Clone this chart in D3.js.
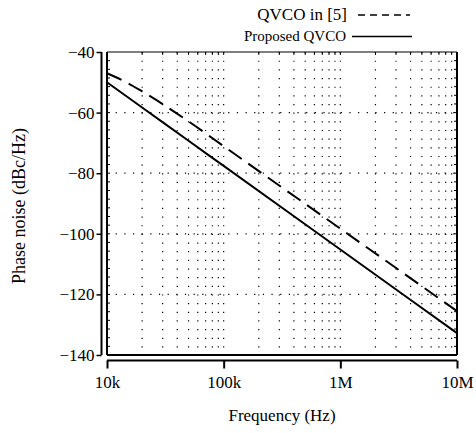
<!DOCTYPE html>
<html>
<head>
<meta charset="utf-8">
<script src="https://cdn.jsdelivr.net/npm/d3@7"></script>
<style>
  body { margin: 0; background: #fff; }
  text { font-family: "Liberation Serif", "Times New Roman", serif; fill: #000; }
</style>
</head>
<body>
<div id="svg_wrapper"></div>
<script>
// data
const refFreqs = [1e4, 1.5e4, 2e4, 3e4, 5e4, 1e5, 1e6, 1e7];
const refNoise = [-47, -50.2, -53, -57.2, -62.9, -71.1, -98.3, -125.5];
const propFreqs = [1e4, 2e4, 5e4, 1e5, 1e6, 1e7];
const propNoise = [-50, -58.3, -69.3, -77.6, -105.2, -132.8];
const xTicks = [1e4, 1e5, 1e6, 1e7];
const xTickLabels = ['10k', '100k', '1M', '10M'];
const yTicks = [-140, -120, -100, -80, -60, -40];
const legendLabels = ['QVCO in [5]', 'Proposed QVCO'];

const width = 476, height = 433;
const plotLeft = 107, plotRight = 457, plotTop = 52, plotBottom = 355;

const svg = d3.select('#svg_wrapper')
.append('svg')
.attr('width', width)
.attr('height', height);

const x = d3.scaleLog().domain([1e4, 1e7]).range([plotLeft, plotRight]);
const y = d3.scaleLinear().domain([-140, -40]).range([plotBottom, plotTop]);

// dot step along the grid lines
const step = (y(-60) - y(-40)) / 7;

// minor positions for vertical grid
const minors = [];
for (let d = 1e4; d < 1e7; d *= 10) {
    for (let m = 2; m <= 10; m++) minors.push(d * m);
}
const gridX = minors.filter(v => v < 1e7);

svg.append('g')
.selectAll('line')
.data(gridX)
.enter()
.append('line')
.attr('x1', d => x(d))
.attr('x2', d => x(d))
.attr('y1', plotTop)
.attr('y2', plotBottom)
.attr('stroke', '#000')
.attr('stroke-width', 1.2)
.attr('stroke-dasharray', `1.2 ${step - 1.2}`);

svg.append('g')
.selectAll('line')
.data(yTicks.filter(v => v > -140 && v < -40))
.enter()
.append('line')
.attr('x1', plotLeft)
.attr('x2', plotRight)
.attr('y1', d => y(d))
.attr('y2', d => y(d))
.attr('stroke', '#000')
.attr('stroke-width', 1.2)
.attr('stroke-dasharray', `1.2 ${step - 1.2}`);

// small inner ticks on the box
svg.append('g')
.selectAll('line')
.data(gridX)
.enter()
.append('line')
.attr('x1', d => x(d))
.attr('x2', d => x(d))
.attr('y1', plotTop)
.attr('y2', plotTop + 3)
.attr('stroke', '#000')
.attr('stroke-width', 1);

const rows = d3.range(1, 35);
svg.append('g')
.selectAll('line')
.data(rows)
.enter()
.append('line')
.attr('x1', plotRight)
.attr('x2', plotRight - 3)
.attr('y1', d => plotTop + d * step)
.attr('y2', d => plotTop + d * step)
.attr('stroke', '#000')
.attr('stroke-width', 1);

svg.append('g')
.selectAll('line')
.data(rows)
.enter()
.append('line')
.attr('x1', plotLeft)
.attr('x2', plotLeft + 3)
.attr('y1', d => plotTop + d * step)
.attr('y2', d => plotTop + d * step)
.attr('stroke', '#000')
.attr('stroke-width', 1);

// box
svg.append('line').attr('x1', plotLeft).attr('x2', plotRight).attr('y1', plotTop).attr('y2', plotTop)
.attr('stroke', '#000').attr('stroke-width', 1.2);
svg.append('line').attr('x1', plotLeft).attr('x2', plotRight).attr('y1', plotBottom).attr('y2', plotBottom)
.attr('stroke', '#000').attr('stroke-width', 2);
svg.append('line').attr('x1', plotLeft).attr('x2', plotLeft).attr('y1', plotTop).attr('y2', plotBottom)
.attr('stroke', '#000').attr('stroke-width', 2);
svg.append('line').attr('x1', plotRight).attr('x2', plotRight).attr('y1', plotTop).attr('y2', plotBottom)
.attr('stroke', '#000').attr('stroke-width', 2);

// curves
const line = d3.line()
.x(d => x(d[0]))
.y(d => y(d[1]))
.curve(d3.curveMonotoneX);

svg.append('path')
.datum(refFreqs.map((f, i) => [f, refNoise[i]]))
.attr('d', line)
.attr('fill', 'none')
.attr('stroke', '#000')
.attr('stroke-width', 2)
.attr('stroke-dasharray', '16 8');

svg.append('path')
.datum(propFreqs.map((f, i) => [f, propNoise[i]]))
.attr('d', line)
.attr('fill', 'none')
.attr('stroke', '#000')
.attr('stroke-width', 2);

// x axis, detached below the box
const xAxis = d3.axisBottom(x)
.tickValues(xTicks)
.tickFormat((d, i) => xTickLabels[i])
.tickSize(8)
.tickPadding(7);

const gx = svg.append('g')
.attr('transform', 'translate(0,360.5)')
.call(xAxis);
gx.select('.domain').attr('stroke-width', 2).attr('d', `M${plotLeft},0H${plotRight}`);
gx.selectAll('.tick line').attr('stroke-width', 2);
gx.selectAll('text')
.style('font-family', '"Liberation Serif", serif')
.style('font-size', '17px');

// y axis, detached left of the box
const yAxis = d3.axisLeft(y)
.tickValues(yTicks)
.tickFormat(d => '\u2212' + Math.abs(d))
.tickSize(5)
.tickPadding(2);

const gy = svg.append('g')
.attr('transform', 'translate(101.5,0)')
.call(yAxis);
gy.select('.domain').attr('stroke-width', 2).attr('d', `M0,${plotTop}V${plotBottom}`);
gy.selectAll('.tick line').attr('stroke-width', 1.5);
gy.selectAll('text')
.style('font-family', '"Liberation Serif", serif')
.style('font-size', '17px');

// axis titles
svg.append('text')
.attr('x', (plotLeft + plotRight) / 2)
.attr('y', 421)
.attr('text-anchor', 'middle')
.style('font-size', '17px')
.text('Frequency (Hz)');

svg.append('text')
.attr('transform', 'translate(25,206) rotate(-90)')
.attr('text-anchor', 'middle')
.style('font-size', '18px')
.text('Phase noise (dBc/Hz)');

// legend
svg.append('text')
.attr('x', 347)
.attr('y', 20)
.attr('text-anchor', 'end')
.style('font-size', '17px')
.text(legendLabels[0]);

svg.append('line')
.attr('x1', 358).attr('x2', 410)
.attr('y1', 15).attr('y2', 15)
.attr('stroke', '#000')
.attr('stroke-width', 1.5)
.attr('stroke-dasharray', '7 5');

svg.append('text')
.attr('x', 346)
.attr('y', 41)
.attr('text-anchor', 'end')
.style('font-size', '15px')
.text(legendLabels[1]);

svg.append('line')
.attr('x1', 352).attr('x2', 412)
.attr('y1', 36.5).attr('y2', 36.5)
.attr('stroke', '#000')
.attr('stroke-width', 1.5);
</script>
</body>
</html>
